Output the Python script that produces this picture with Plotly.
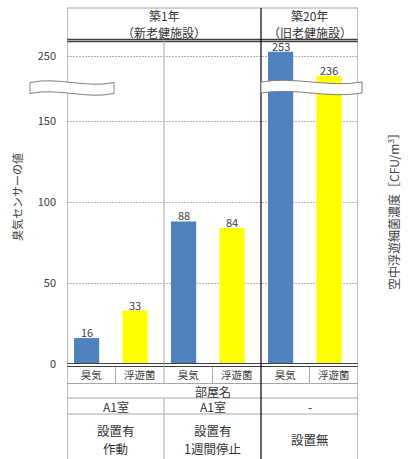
import plotly.graph_objects as go

# ---------------- data ----------------
categories = ["臭気", "浮遊菌", "臭気", "浮遊菌", "臭気", "浮遊菌"]
values = [16, 33, 88, 84, 253, 236]
series_colors = {"臭気": "#4F81BD", "浮遊菌": "#FFFF00"}
lower_ticks = [0, 50, 100, 150]
upper_ticks = [250]
group_titles = ["築1年", "築20年"]
group_subtitles = ["（新老健施設）", "（旧老健施設）"]
row_title = "部屋名"
room_names = ["A1室", "A1室", "-"]
conditions = [["設置有", "作動"], ["設置有", "1週間停止"], ["設置無"]]
left_title = "臭気センサーの値"
right_title = "空中浮遊細菌濃度［CFU/m<sup>3</sup>］"

# ---------------- layout helpers ----------------
W, H = 408, 459
FONT = "Noto Sans CJK JP"
def py(y):
    return 1 - y / H
def pxx(x):
    return x / W

lower_range = [0, 170.4]
upper_range = [227.6, 261.2]
BREAK_Y = 88
BAR_W, BAR_OFF = 0.52, -0.356

idx = list(range(len(categories)))
colors = [series_colors[c] for c in categories]

fig = go.Figure()
for yax in ("y", "y2"):
    fig.add_trace(go.Bar(
        x=idx, y=values, yaxis=yax, xaxis="x",
        width=BAR_W, offset=BAR_OFF,
        marker=dict(color=colors, line=dict(width=0)),
        showlegend=False, hoverinfo="skip",
    ))

tickfont = dict(family=FONT, size=11, color="#404040")
yax_common = dict(zeroline=False, showline=False, tickfont=tickfont, ticks="",
                  fixedrange=True, automargin=False)
grid = dict(showgrid=True, griddash="2px,1px", gridcolor="#B4B4B4", gridwidth=1)
fig.update_layout(
    width=W, height=H, margin=dict(l=0, r=0, t=0, b=0), autosize=False,
    paper_bgcolor="white", plot_bgcolor="white",
    barmode="overlay",
    xaxis=dict(domain=[pxx(67), pxx(358)], range=[-0.5, len(idx) - 0.5],
               tickvals=idx, ticktext=categories, showgrid=False, zeroline=False,
               showline=False, ticks="", anchor="y", automargin=False,
               tickfont=dict(family=FONT, size=10.5, color="#404040"),
               ticklabelstandoff=3),
    yaxis=dict(domain=[py(364), py(BREAK_Y)], range=lower_range, tickvals=lower_ticks,
               anchor="x", ticklabelstandoff=10, **grid, **yax_common),
    yaxis2=dict(domain=[py(BREAK_Y), py(40)], range=upper_range, tickvals=upper_ticks,
                anchor="x", ticklabelstandoff=10, **grid, **yax_common),
    yaxis3=dict(overlaying="y", side="right", range=lower_range, tickvals=lower_ticks,
                showgrid=False, anchor="x", ticklabelstandoff=6, **yax_common),
    yaxis4=dict(overlaying="y2", side="right", range=upper_range, tickvals=upper_ticks,
                showgrid=False, anchor="x", ticklabelstandoff=6, **yax_common),
)

shapes = []
def hline(y, x0=-0.5, x1=len(idx) - 0.5, color="#A6A6A6", w=1):
    shapes.append(dict(type="line", xref="x", yref="paper", x0=x0, x1=x1,
                       y0=py(y), y1=py(y), line=dict(color=color, width=w), layer="above"))
def vline(x, y0, y1, color="#A6A6A6", w=1):
    shapes.append(dict(type="line", xref="x", yref="paper", x0=x, x1=x,
                       y0=py(y0), y1=py(y1), line=dict(color=color, width=w), layer="above"))

# table borders
hline(8)
hline(39.5, color="#404040", w=1.3)
hline(41.5, color="#404040", w=1.3)
hline(363.5, color="#404040", w=1.2)
hline(366.5, color="#404040", w=1.2)
hline(383.5)
hline(398)
hline(414)
vline(-0.5, 8, H, color="#7F7F7F")
vline(len(idx) - 0.5, 8, H, color="#7F7F7F")
vline(1.5, 41, 384)
vline(1.5, 398, H)
for xs in (0.5, 2.5, 4.5):
    vline(xs, 367, 384)
vline(3.5, 8, H, color="#000000", w=1.2)

# axis break wave symbols
def wave(x0, x1, t, b, a=6):
    w = x1 - x0
    pts = [
        f"M {pxx(x0)},{py(t)}",
        f"C {pxx(x0 + w/3)},{py(t - a)} {pxx(x0 + 2*w/3)},{py(t + a)} {pxx(x1)},{py(t)}",
        f"L {pxx(x1)},{py(b)}",
        f"C {pxx(x0 + 2*w/3)},{py(b + a)} {pxx(x0 + w/3)},{py(b - a)} {pxx(x0)},{py(b)}",
        "Z",
    ]
    shapes.append(dict(type="path", xref="paper", yref="paper", path=" ".join(pts),
                       fillcolor="white", line=dict(color="#7F7F7F", width=1),
                       layer="above"))
wave(30, 114, 82.5, 93.5)
wave(261, 362, 82, 93)
fig.update_layout(shapes=shapes)

# texts
anns = []
def ann(text, x, y, size=12, xref="x", angle=0, color="#333333", h=None):
    d = dict(text=text, x=x, y=py(y), xref=xref, yref="paper",
             xanchor="center", yanchor="middle", showarrow=False,
             textangle=angle, font=dict(family=FONT, size=size, color=color))
    if h:
        d["height"] = h
    anns.append(d)

# bar value labels, anchored to data coordinates
for i, v in zip(idx, values):
    anns.append(dict(text=str(v), x=i + BAR_OFF + BAR_W / 2, y=v, xref="x",
                     yref="y" if v <= lower_range[1] else "y2",
                     xanchor="center", yanchor="middle", yshift=6, showarrow=False,
                     font=dict(family=FONT, size=11, color="#404040")))

ann(group_titles[0], 1.5, 15.5, 12, h=15)
ann(group_subtitles[0], 1.5, 32, 12, h=15)
ann(group_titles[1], 4.5, 15.5, 12, h=15)
ann(group_subtitles[1], 4.5, 32, 12, h=15)
ann(row_title, 2.5, 391, 12, h=13)
for i, r in enumerate(room_names):
    ann(r, 2 * i + 0.5, 406, 12, h=14)
for i, c in enumerate(conditions):
    if len(c) == 2:
        ann(c[0], 2 * i + 0.5, 430, 12.5, h=16)
        ann(c[1], 2 * i + 0.5, 448, 12.5, h=16)
    else:
        ann(c[0], 2 * i + 0.5, 439, 12.5, h=16)
ann(left_title, pxx(17), 197, 11, xref="paper", angle=-90, color="#404040")
ann(right_title, pxx(393), 209, 12, xref="paper", angle=-90, color="#404040")
fig.update_layout(annotations=anns)

fig.write_html("out.html", config={"displayModeBar": False},
               post_script="document.body.style.margin='0';document.body.style.overflow='hidden';")
